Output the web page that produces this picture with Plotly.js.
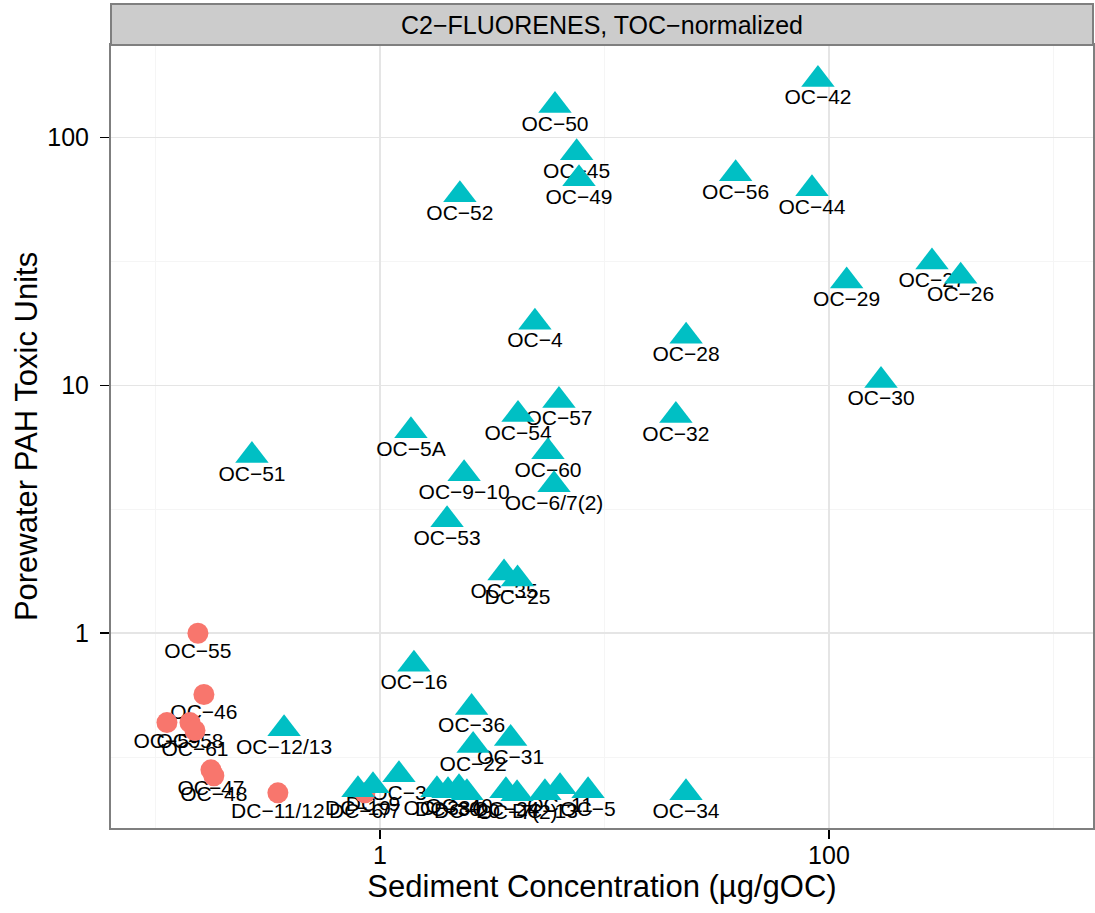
<!DOCTYPE html>
<html>
<head>
<meta charset="utf-8">
<script src="https://cdn.plot.ly/plotly-3.0.1.min.js"></script>
<style>html,body{margin:0;padding:0;background:#fff;}#chart{width:1095px;height:913px;}</style>
</head>
<body>
<div id="chart"></div>
<script>
// Red group (circles)
const circleLabels = ["OC−55","OC−46","OC−59","OC−58","OC−61","OC−47","OC−48","DC−11/12","DC−6/7"];
const circleX = [0.1546,0.1644,0.1125,0.1425,0.150,0.1767,0.182,0.351,0.857];
const circleY = [1.0,0.566,0.436,0.436,0.405,0.281,0.266,0.227,0.227];

// Teal group (triangles)
const triLabels = ["OC−42","OC−50","OC−45","OC−49","OC−52","OC−56","OC−44","OC−27","OC−26","OC−29",
  "OC−4","OC−28","OC−30","OC−57","OC−54","OC−32","OC−5A","OC−60","OC−51","OC−9−10",
  "OC−6/7(2)","OC−53","OC−35","DC−25","OC−16","OC−36","OC−12/13","OC−31","OC−22","OC−3",
  "DC−19","DC−9","OC−38","DC−30","OC−40","DC−20","OC−24","OC−7(2)","DC−13","OC−11","OC−5","OC−34"];
const triX = [89.3,6.02,7.52,7.7,2.27,38.4,84,287.6,386,119.9,
  4.9,23.1,170.5,6.27,4.12,20.8,1.374,5.6,0.269,2.37,
  5.96,1.99,3.57,4.1,1.417,2.56,0.374,3.82,2.6,1.215,
  0.798,0.931,1.794,2.01,2.25,2.44,3.64,4.08,5.43,6.34,8.45,23.07];
const triY = [171.8,134.8,86.9,68.2,58.8,71.5,62.2,31.5,27.6,26.4,
  18.0,15.8,10.48,8.7,7.63,7.56,6.57,5.4,5.21,4.40,
  3.97,2.87,1.75,1.654,0.749,0.502,0.412,0.376,0.352,0.2686,
  0.2335,0.2425,0.2335,0.2314,0.2379,0.2272,0.2314,0.2251,0.2272,0.240,0.2314,0.2272];

const xTickVals = [1,100];
const xTickText = ["1","100"];
const xMinorVals = [0.1,10,1000];
const yTickVals = [1,10,100];
const yTickText = ["1","10","100"];
const yMinorVals = [0.316,3.16,31.6];

const stripTitle = "C2−FLUORENES, TOC−normalized";
const xTitle = "Sediment Concentration (µg/gOC)";
const yTitle = "Porewater PAH Toxic Units";

const FONT = "Liberation Sans, Arial, Helvetica, sans-serif";
const labelFont = {family: FONT, size: 21, color: "#000"};

const textTrace = (xs, ys, ts) => ({
  type: "scatter", mode: "markers+text", x: xs, y: ys, text: ts,
  textposition: "bottom center", textfont: labelFont,
  marker: {size: 13.2, color: "rgba(0,0,0,0)"}, showlegend: false, hoverinfo: "skip", cliponaxis: false
});

const data = [
  textTrace(circleX, circleY, circleLabels),
  textTrace(triX, triY, triLabels),
  {type: "scatter", mode: "markers", x: circleX, y: circleY,
   marker: {symbol: "circle", size: 21, color: "#F8766D", line: {width: 0}}, showlegend: false, hoverinfo: "skip"},
  {type: "scatter", mode: "markers", x: triX, y: triY,
   marker: {symbol: "triangle-up", size: 29, color: "#00BFC4", line: {width: 0}}, showlegend: false, hoverinfo: "skip"}
];

const stripH = 41/783;
const layout = {
  width: 1095, height: 913,
  margin: {l: 111, r: 2, t: 45, b: 85, pad: 0},
  paper_bgcolor: "#fff", plot_bgcolor: "#fff",
  showlegend: false, hovermode: false,
  font: {family: FONT, color: "#000"},
  xaxis: {
    type: "log", range: [-1.198, 3.176], autorange: false,
    tickmode: "array", tickvals: xTickVals, ticktext: xTickText,
    ticks: "outside", ticklen: 9, tickwidth: 1.5, tickcolor: "#000",
    tickfont: {family: FONT, size: 25, color: "#000"},
    ticklabelstandoff: -5,
    showgrid: true, gridcolor: "#E5E5E5", gridwidth: 1.5,
    minor: {tickmode: "array", tickvals: xMinorVals, showgrid: true, gridcolor: "#F5F5F5", gridwidth: 1.2, ticks: ""},
    showline: true, mirror: true, linecolor: "#7F7F7F", linewidth: 2,
    zeroline: false,
    title: {text: xTitle, font: {family: FONT, size: 31, color: "#000"}, standoff: 0}
  },
  yaxis: {
    type: "log", range: [-0.786, 2.374], autorange: false,
    tickmode: "array", tickvals: yTickVals, ticktext: yTickText,
    ticks: "outside", ticklen: 9, tickwidth: 1.5, tickcolor: "#000",
    tickfont: {family: FONT, size: 25, color: "#000"},
    ticklabelstandoff: 6,
    showgrid: true, gridcolor: "#E5E5E5", gridwidth: 1.5,
    minor: {tickmode: "array", tickvals: yMinorVals, showgrid: true, gridcolor: "#F5F5F5", gridwidth: 1.2, ticks: ""},
    showline: true, mirror: true, linecolor: "#7F7F7F", linewidth: 2,
    zeroline: false,
    title: {text: yTitle, font: {family: FONT, size: 31, color: "#000"}, standoff: 0}
  },
  shapes: [
    {type: "rect", xref: "paper", yref: "paper", x0: 0, x1: 1, y0: 1, y1: 1 + stripH,
     fillcolor: "#CCCCCC", line: {color: "#7F7F7F", width: 2}, layer: "above"}
  ],
  annotations: [
    {xref: "paper", yref: "paper", x: 0.5, y: 1 + stripH/2, text: stripTitle, showarrow: false,
     xanchor: "center", yanchor: "middle", font: {family: FONT, size: 25, color: "#000"}}
  ]
};

Plotly.newPlot("chart", data, layout, {displayModeBar: false, staticPlot: true});
</script>
</body>
</html>
